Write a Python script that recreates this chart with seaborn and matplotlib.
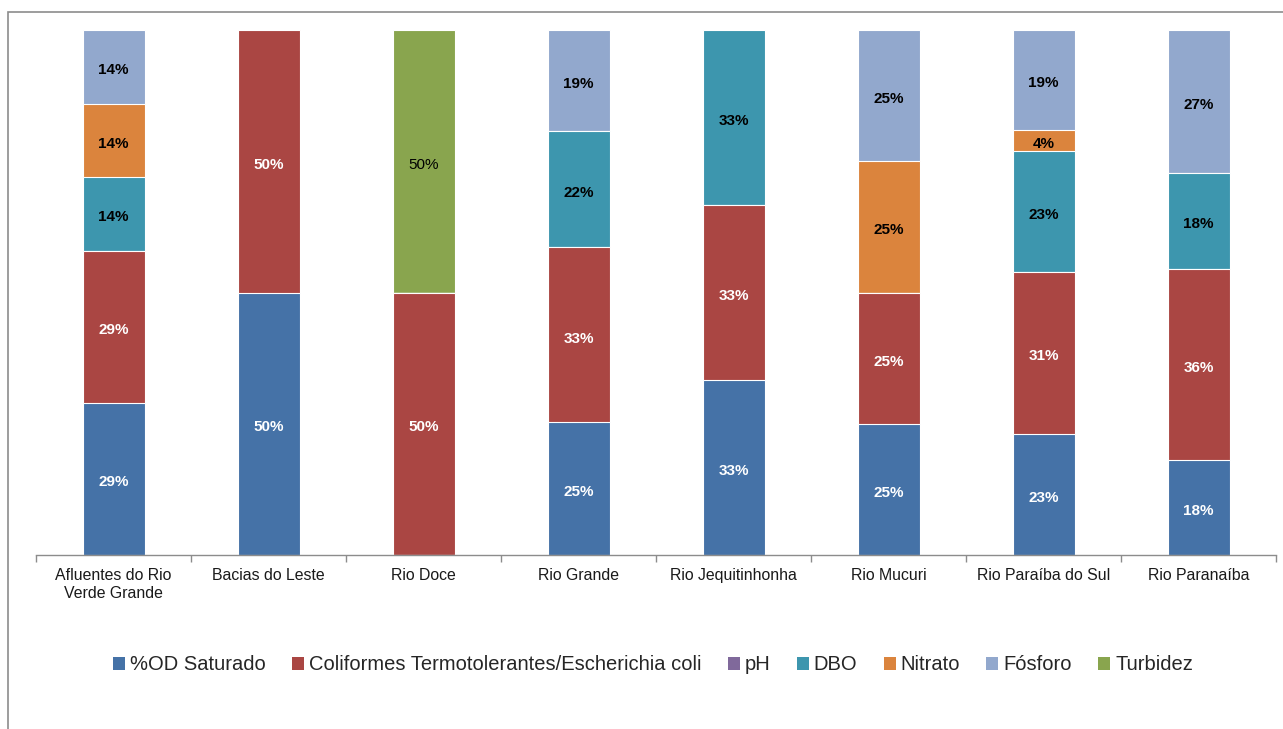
import matplotlib
matplotlib.use("Agg")
import matplotlib.pyplot as plt
from matplotlib.patches import Patch, Rectangle
from matplotlib.transforms import blended_transform_factory, offset_copy
import numpy as np
import pandas as pd
import seaborn as sns

# Share of each parameter among the worst-quality results, per basin (%)
basins = ["Afluentes do Rio\nVerde Grande", "Bacias do Leste", "Rio Doce", "Rio Grande",
          "Rio Jequitinhonha", "Rio Mucuri", "Rio Paraíba do Sul", "Rio Paranaíba"]
params = ["%OD Saturado", "Coliformes Termotolerantes/Escherichia coli", "pH",
          "DBO", "Nitrato", "Fósforo", "Turbidez"]

od_saturado = [29, 50, 0, 25, 33, 25, 23, 18]
coliformes = [29, 50, 50, 33, 33, 25, 31, 36]
ph = [0, 0, 0, 0, 0, 0, 0, 0]
dbo = [14, 0, 0, 22, 33, 0, 23, 18]
nitrato = [14, 0, 0, 0, 0, 25, 4, 0]
fosforo = [14, 0, 0, 19, 0, 25, 19, 27]
turbidez = [0, 0, 50, 0, 0, 0, 0, 0]

colors = ["#4572A7", "#AA4643", "#80699B", "#3D96AE", "#DB843D", "#92A8CD", "#89A54E"]
label_colors = ["white", "white", "white", "black", "black", "black", "black"]
label_weights = ["bold", "bold", "bold", "bold", "bold", "bold", "normal"]

sns.set_theme(style="white")
plt.rcParams["font.family"] = ["Liberation Sans", "DejaVu Sans"]

df = pd.DataFrame(dict(zip(params, [od_saturado, coliformes, ph, dbo, nitrato, fosforo, turbidez])),
                  index=basins)
# 100% stacked: normalise each basin to its total
shares = df.div(df.sum(axis=1), axis=0) * 100
cum = shares.cumsum(axis=1)

fig = plt.figure(figsize=(12.83, 7.29), dpi=100)
ax = fig.add_axes([36 / 1283, 1 - 555 / 729, (1276 - 36) / 1283, (555 - 30) / 729])

# draw cumulative bars from the top series down so each segment shows
for i in reversed(range(len(params))):
    col = params[i]
    sns.barplot(x=basins, y=cum[col].values, order=basins, color=colors[i], width=0.4,
                saturation=1, edgecolor="white", linewidth=0.8, ax=ax, zorder=2)

# segment labels
label_trans = offset_copy(ax.transData, fig=fig, x=0, y=-1.5, units="points")
for j, b in enumerate(basins):
    for i, p in enumerate(params):
        v = df.loc[b, p]
        if v <= 0:
            continue
        top = cum.loc[b, p]
        mid = top - shares.loc[b, p] / 2
        ax.text(j, mid, f"{v}%", transform=label_trans, ha="center", va="center_baseline",
                fontsize=11, color=label_colors[i], fontweight=label_weights[i], zorder=5)

ax.set_ylim(0, 100)
ax.set_xlim(-0.5, len(basins) - 0.5)
ax.set_yticks([])
ax.set_ylabel("")
for s in ["top", "right", "left"]:
    ax.spines[s].set_visible(False)
ax.spines["bottom"].set_color("#8c8c8c")
ax.spines["bottom"].set_linewidth(1)

# category names, each line placed on a fixed baseline under the axis
ax.set_xticks(range(len(basins)))
ax.set_xticklabels([])
ax.tick_params(axis="x", which="major", length=0, bottom=False)
ax.set_xticks(np.arange(-0.5, len(basins)), minor=True)
ax.tick_params(axis="x", which="minor", length=5, color="#8c8c8c", width=1,
               direction="out", bottom=True)
trans = blended_transform_factory(ax.transData, ax.transAxes)
for j, name in enumerate(basins):
    for k, line in enumerate(name.split("\n")):
        t = offset_copy(trans, fig=fig, x=0, y=-(25 + 18 * k) * 72 / 100, units="points")
        ax.text(j, 0, line, transform=t, ha="center", va="baseline", fontsize=11.4,
                color="#1a1a1a")

handles = [Patch(facecolor=c, edgecolor="none") for c in colors]
fig.legend(handles, params, loc="center", bbox_to_anchor=(653 / 1283, 1 - 665 / 729), ncol=7,
           frameon=False, fontsize=14.5, handlelength=0.6, handleheight=0.6,
           handletextpad=0.25, columnspacing=1.3)

# outer chart frame
fig.add_artist(Rectangle((8 / 1283, -0.05), 1.2, (729 - 12) / 729 + 0.05, transform=fig.transFigure,
                         fill=False, edgecolor="#8c8c8c", linewidth=1.2))

fig.savefig("out.png", dpi=100)
